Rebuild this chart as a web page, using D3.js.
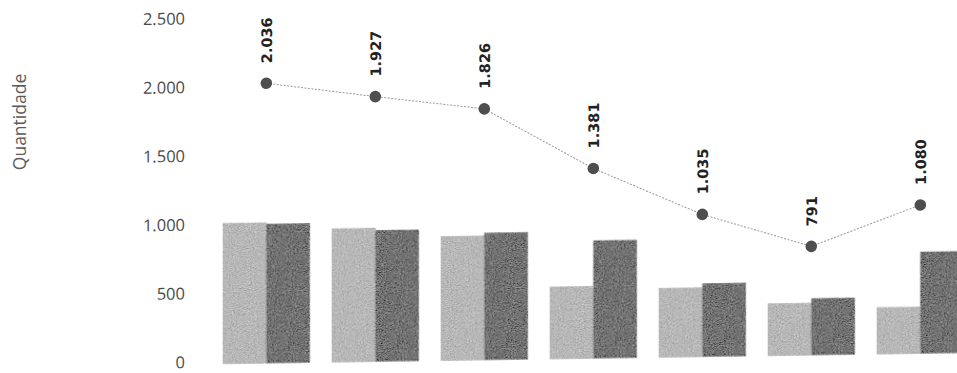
<!DOCTYPE html>
<html lang="pt">
<head>
<meta charset="utf-8">
<script src="https://cdn.jsdelivr.net/npm/d3@7/dist/d3.min.js"></script>
<style>
  html, body { margin: 0; padding: 0; background: #fff; }
  svg { display: block; }
</style>
</head>
<body>
<div id="chart"></div>
<script>
// Quantidades por período: duas séries em barras e o total em linha
const categorias = ["1", "2", "3", "4", "5", "6", "7"];
const serieClara = [1023, 972, 902, 524, 502, 378, 340];
const serieEscura = [1013, 955, 924, 857, 533, 413, 740];
const totais = [2036, 1927, 1826, 1381, 1035, 791, 1080];
const ticksY = [0, 500, 1000, 1500, 2000, 2500];
const tituloY = "Quantidade";

const W = 957, H = 373;
const ptBR = d3.formatLocale({ decimal: ",", thousands: ".", grouping: [3], currency: ["R$", ""] });
const fmt = ptBR.format(",d");

const svg = d3.select("#chart").append("svg")
  .attr("width", W).attr("height", H);

// Granulado de impressão aplicado às barras
const defs = svg.append("defs");
const grain = defs.append("filter").attr("id", "grain")
  .attr("x", 0).attr("y", 0).attr("width", "100%").attr("height", "100%");
grain.append("feTurbulence").attr("type", "fractalNoise")
  .attr("baseFrequency", 0.95).attr("numOctaves", 2).attr("seed", 7).attr("result", "noise");
grain.append("feColorMatrix").attr("in", "noise").attr("type", "matrix")
  .attr("values", "0.33 0.33 0.33 0 0  0.33 0.33 0.33 0 0  0.33 0.33 0.33 0 0  0 0 0 0 1")
  .attr("result", "gray");
grain.append("feComposite").attr("in", "SourceGraphic").attr("in2", "gray")
  .attr("operator", "arithmetic").attr("k1", 0).attr("k2", 1).attr("k3", 1.1).attr("k4", -0.55)
  .attr("result", "mix");
grain.append("feComposite").attr("in", "mix").attr("in2", "SourceGraphic").attr("operator", "in");

// Leve inclinação do conjunto (a linha de base sobe para a direita)
const pivotX = 245, slope = 0.0148;
const g = svg.append("g")
  .attr("transform", `matrix(1, ${-slope}, 0, 1, 0, ${slope * pivotX})`);

const x = d3.scaleBand().domain(categorias)
  .range([222.7, 222.7 + 6 * 109 + 87.2])
  .paddingInner(0.2).paddingOuter(0);
const xs = d3.scaleBand().domain(["clara", "escura"]).range([0, x.bandwidth()]);
const y = d3.scaleLinear().domain([0, 2500]).range([363.5, 19.75]);

// Eixo Y: apenas rótulos, sem linha nem marcas
const yAxis = d3.axisLeft(y).tickValues(ticksY).tickFormat(fmt).tickSize(0).tickPadding(0);
const ay = g.append("g").attr("transform", "translate(185,-2)").call(yAxis);
ay.select(".domain").remove();
ay.selectAll("text")
  .attr("font-family", "'Open Sans', sans-serif")
  .attr("font-size", 16.5)
  .attr("fill", "#4a4a4a");

svg.append("text")
  .attr("transform", "translate(26,122) rotate(-90)")
  .attr("text-anchor", "middle")
  .attr("font-family", "'Open Sans', sans-serif")
  .attr("font-size", 17.5)
  .attr("fill", "#5a5a5a")
  .text(tituloY);

// Barras agrupadas
const dados = categorias.map((c, i) => ({ c, clara: serieClara[i], escura: serieEscura[i], total: totais[i] }));
const cores = { clara: "#b8b8b8", escura: "#737373" };

const grupos = g.append("g").selectAll("g").data(dados).join("g")
  .attr("transform", d => `translate(${x(d.c)},0)`);
grupos.selectAll("rect")
  .data(d => ["clara", "escura"].map(k => ({ k, v: d[k] })))
  .join("rect")
  .attr("x", d => xs(d.k))
  .attr("width", xs.bandwidth())
  .attr("y", d => y(d.v))
  .attr("height", d => y(0) - y(d.v))
  .attr("fill", d => cores[d.k])
  .attr("filter", "url(#grain)");

// Linha de totais
const cx = d => x(d.c) + x.bandwidth() / 2;
const linha = d3.line().x(cx).y(d => y(d.total));
g.append("path").datum(dados)
  .attr("d", linha)
  .attr("fill", "none")
  .attr("stroke", "#9a9a9a")
  .attr("stroke-width", 1)
  .attr("stroke-dasharray", "2,1.5");

g.append("g").selectAll("circle").data(dados).join("circle")
  .attr("cx", cx)
  .attr("cy", d => y(d.total))
  .attr("r", 5.8)
  .attr("fill", "#4e4e4e");

// Rótulos de valor, verticais, acima de cada ponto
g.append("g").selectAll("text").data(dados).join("text")
  .attr("transform", d => `translate(${cx(d)},${y(d.total) - 20}) rotate(-90)`)
  .attr("dy", "0.36em")
  .attr("text-anchor", "start")
  .attr("font-family", "'DejaVu Sans', sans-serif")
  .attr("font-weight", "bold")
  .attr("font-size", 14.5)
  .attr("fill", "#222")
  .text(d => fmt(d.total));
</script>
</body>
</html>
